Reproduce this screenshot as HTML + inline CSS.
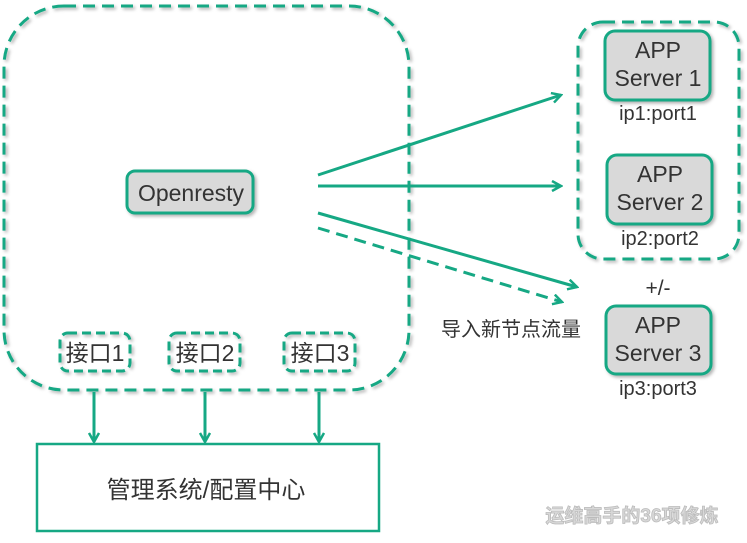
<!DOCTYPE html>
<html><head><meta charset="utf-8"><style>
html,body{margin:0;padding:0;background:#fff;}
svg{display:block;}
text{font-family:"Liberation Sans","Noto Sans CJK SC",sans-serif;fill:#333;}
</style></head><body>
<svg width="747" height="543" viewBox="0 0 747 543" xmlns="http://www.w3.org/2000/svg">
<defs>
<filter id="sh" x="-10%" y="-10%" width="130%" height="130%"><feDropShadow dx="2" dy="2" stdDeviation="1.5" flood-color="#000" flood-opacity="0.3"/></filter>
<marker id="ar" markerWidth="12" markerHeight="12" refX="10" refY="6" orient="auto" markerUnits="userSpaceOnUse"><path d="M1,1 L10,6 L1,11" fill="none" stroke="#16a884" stroke-width="2.5"/></marker>
</defs>
<g fill="none" stroke="#16a884" stroke-width="3">
<rect x="4" y="6" width="405" height="384" rx="60" stroke-dasharray="12,7" filter="url(#sh)"/>
<rect x="578" y="22" width="161" height="237" rx="25" stroke-dasharray="12,7" filter="url(#sh)"/>
<rect x="60" y="333" width="70" height="38" rx="8" stroke-dasharray="9,5" filter="url(#sh)"/>
<rect x="169" y="333" width="71" height="38" rx="8" stroke-dasharray="9,5" filter="url(#sh)"/>
<rect x="284" y="333" width="71" height="38" rx="8" stroke-dasharray="9,5" filter="url(#sh)"/>
<rect x="37" y="444" width="342" height="87" stroke-width="2.5"/>
</g>
<g fill="#d9d9d9" stroke="#16a884" stroke-width="3" filter="url(#sh)">
<rect x="127" y="171" width="126" height="42" rx="8"/>
<rect x="605" y="31" width="105" height="69" rx="10"/>
<rect x="607" y="155" width="105" height="69" rx="10"/>
<rect x="606" y="306" width="105" height="68" rx="10"/>
</g>
<g stroke="#16a884" stroke-width="3" fill="none">
<line x1="318" y1="175" x2="561" y2="95" marker-end="url(#ar)"/>
<line x1="318" y1="186" x2="561" y2="186" marker-end="url(#ar)"/>
<line x1="318" y1="213" x2="577" y2="287" marker-end="url(#ar)"/>
<line x1="318" y1="228" x2="562" y2="302" stroke-dasharray="12,7" marker-end="url(#ar)"/>
<line x1="94" y1="392" x2="94" y2="442" marker-end="url(#ar)"/>
<line x1="205" y1="392" x2="205" y2="442" marker-end="url(#ar)"/>
<line x1="319" y1="392" x2="319" y2="442" marker-end="url(#ar)"/>
</g>
<g font-size="23" text-anchor="middle">
<text x="191" y="201">Openresty</text>
<text x="658" y="58">APP</text><text x="658" y="86">Server 1</text>
<text x="660" y="182">APP</text><text x="660" y="210">Server 2</text>
<text x="658" y="333">APP</text><text x="658" y="361">Server 3</text>
<text x="95" y="361">接口1</text>
<text x="205" y="361">接口2</text>
<text x="320" y="361">接口3</text>
<text x="206" y="498" font-size="24">管理系统/配置中心</text>
</g>
<g font-size="20" text-anchor="middle">
<text x="658" y="120">ip1:port1</text>
<text x="660" y="245">ip2:port2</text>
<text x="658" y="395">ip3:port3</text>
<text x="658" y="295" font-size="21" fill="#000">+/-</text>
<text x="511" y="336">导入新节点流量</text>
</g>
<text x="632" y="522" font-size="19" font-weight="bold" text-anchor="middle" style="fill:#d8d8d8;stroke:#bbb;stroke-width:0.8">运维高手的36项修炼</text>
</svg>
</body></html>
